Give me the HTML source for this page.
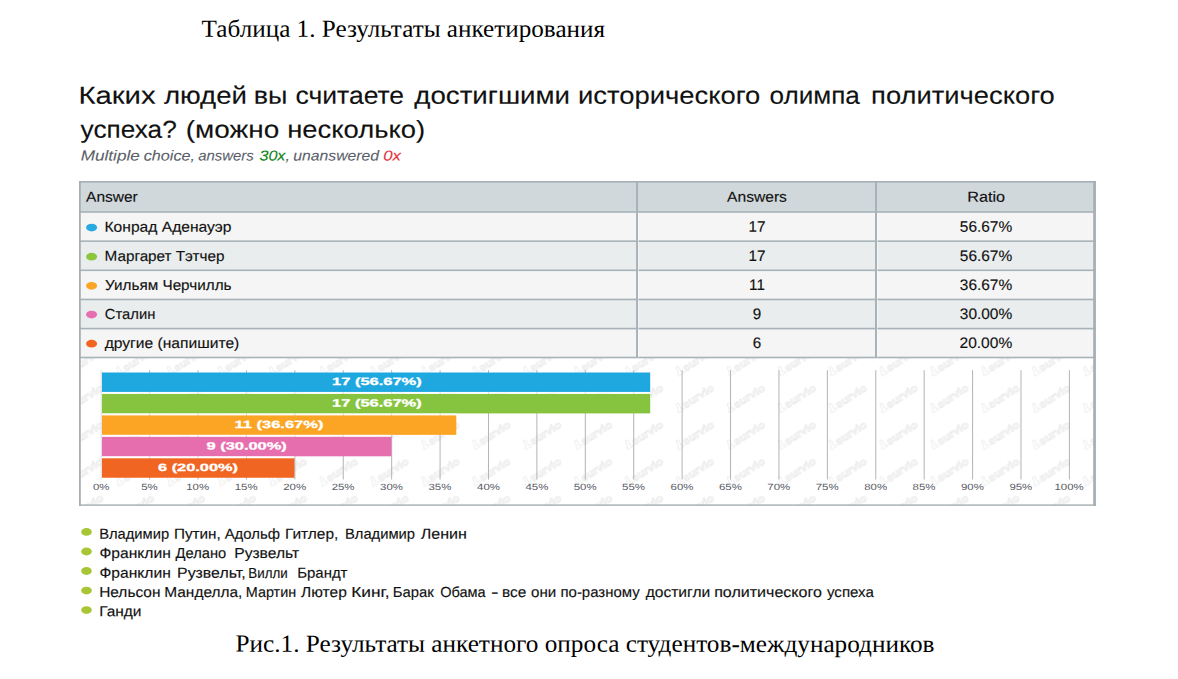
<!DOCTYPE html>
<html lang="ru">
<head>
<meta charset="utf-8">
<title>Результаты анкетирования</title>
<style>
html,body{margin:0;padding:0;background:#fff;}
body{width:1178px;height:679px;position:relative;overflow:hidden;font-family:'Liberation Sans',sans-serif;}
.g{position:absolute;left:0;top:0;}
.t{position:absolute;left:0;top:0;white-space:nowrap;line-height:1.2;transform-origin:0 0;display:block;}
.grp{margin:0;padding:0;font:inherit;list-style:none;display:block;}
</style>
</head>
<body>
<svg class="g" width="1178" height="679" viewBox="0 0 1178 679">
<defs><pattern id="wm" x="669.05" y="380.25" width="50.9" height="36.7" patternUnits="userSpaceOnUse"><g transform="translate(25.45,18.35) rotate(-32.6)" fill="#fff" stroke="#eaeaea" stroke-width="0.8" stroke-linejoin="round"><text x="-13" y="3.6" font-family="Liberation Sans, sans-serif" font-size="10.5" font-weight="bold" textLength="35" lengthAdjust="spacingAndGlyphs">survio</text><path d="M-21 3.6 l6.5 0 l0 -2.2 l-2.2 0 l0.8 -6.2 l-2.4 -0.6 l-1.4 6.8 l-1.3 0 z"/></g></pattern></defs>
<rect x="79" y="181" width="1016.9" height="31" fill="#d0d8db"/>
<rect x="79" y="212" width="1016.9" height="29.15" fill="#f5f5f5"/>
<rect x="79" y="241.15" width="1016.9" height="29.15" fill="#e9edee"/>
<rect x="79" y="270.3" width="1016.9" height="29.15" fill="#f5f5f5"/>
<rect x="79" y="299.45" width="1016.9" height="29.15" fill="#e9edee"/>
<rect x="79" y="328.6" width="1016.9" height="28.9" fill="#f5f5f5"/>
<rect x="79" y="357.5" width="1016.9" height="148.3" fill="#fff"/>
<rect x="79" y="357.5" width="1016.9" height="148.3" fill="url(#wm)"/>
<rect x="79" y="211.2" width="1016.9" height="1.6" fill="#a7b3b9"/>
<rect x="79" y="240.35" width="1016.9" height="1.6" fill="#a7b3b9"/>
<rect x="79" y="269.5" width="1016.9" height="1.6" fill="#a7b3b9"/>
<rect x="79" y="298.65" width="1016.9" height="1.6" fill="#a7b3b9"/>
<rect x="79" y="327.8" width="1016.9" height="1.6" fill="#a7b3b9"/>
<rect x="79" y="356.7" width="1016.9" height="1.6" fill="#a7b3b9"/>
<rect x="636.05" y="181" width="2" height="176.5" fill="#a7b3b9"/>
<rect x="638.05" y="212.8" width="1" height="144.7" fill="#fff" opacity="0.45"/>
<rect x="875" y="181" width="2" height="176.5" fill="#a7b3b9"/>
<rect x="877" y="212.8" width="1" height="144.7" fill="#fff" opacity="0.45"/>
<ellipse cx="91.6" cy="227.6" rx="5.5" ry="3.9" fill="#27a9e1"/>
<ellipse cx="91.6" cy="256.7" rx="5.5" ry="3.9" fill="#8cc63f"/>
<ellipse cx="91.6" cy="285.8" rx="5.5" ry="3.9" fill="#f9a626"/>
<ellipse cx="91.6" cy="314.6" rx="5.5" ry="3.9" fill="#e76eb1"/>
<ellipse cx="91.6" cy="343.7" rx="5.5" ry="3.9" fill="#f26522"/>
<rect x="100.7" y="370.2" width="1" height="109.3" fill="#dcdcdc"/>
<rect x="149.11" y="370.2" width="1" height="109.3" fill="#b4b4b4"/>
<rect x="197.52" y="370.2" width="1" height="109.3" fill="#b4b4b4"/>
<rect x="245.93" y="370.2" width="1" height="109.3" fill="#b4b4b4"/>
<rect x="294.34" y="370.2" width="1" height="109.3" fill="#b4b4b4"/>
<rect x="342.75" y="370.2" width="1" height="109.3" fill="#b4b4b4"/>
<rect x="391.16" y="370.2" width="1" height="109.3" fill="#b4b4b4"/>
<rect x="439.57" y="370.2" width="1" height="109.3" fill="#b4b4b4"/>
<rect x="487.98" y="370.2" width="1" height="109.3" fill="#b4b4b4"/>
<rect x="536.39" y="370.2" width="1" height="109.3" fill="#b4b4b4"/>
<rect x="584.8" y="370.2" width="1" height="109.3" fill="#b4b4b4"/>
<rect x="633.21" y="370.2" width="1" height="109.3" fill="#b4b4b4"/>
<rect x="681.62" y="370.2" width="1" height="109.3" fill="#b4b4b4"/>
<rect x="730.03" y="370.2" width="1" height="109.3" fill="#b4b4b4"/>
<rect x="778.44" y="370.2" width="1" height="109.3" fill="#b4b4b4"/>
<rect x="826.85" y="370.2" width="1" height="109.3" fill="#b4b4b4"/>
<rect x="875.26" y="370.2" width="1" height="109.3" fill="#b4b4b4"/>
<rect x="923.67" y="370.2" width="1" height="109.3" fill="#b4b4b4"/>
<rect x="972.08" y="370.2" width="1" height="109.3" fill="#b4b4b4"/>
<rect x="1020.49" y="370.2" width="1" height="109.3" fill="#b4b4b4"/>
<rect x="1068.9" y="370.2" width="1" height="109.3" fill="#b4b4b4"/>
<rect x="102" y="372.5" width="548.2" height="19.45" fill="#1fa8e0"/>
<rect x="102" y="391.95" width="548.2" height="2" fill="#fff" opacity="0.6"/>
<rect x="102" y="393.95" width="548.2" height="19.45" fill="#86c440"/>
<rect x="102" y="413.4" width="354.3" height="2" fill="#fff" opacity="0.6"/>
<rect x="102" y="415.4" width="354.3" height="19.45" fill="#fca524"/>
<rect x="102" y="434.85" width="289.4" height="2" fill="#fff" opacity="0.6"/>
<rect x="102" y="436.85" width="289.4" height="19.45" fill="#e66eae"/>
<rect x="102" y="456.3" width="192.4" height="2" fill="#fff" opacity="0.6"/>
<rect x="102" y="458.3" width="192.4" height="19.45" fill="#f16522"/>
<rect x="79" y="181" width="1.8" height="324.8" fill="#a6afb4"/>
<rect x="1093.2" y="181" width="2.7" height="324.8" fill="#a6afb4"/>
<rect x="79" y="181" width="1016.9" height="1.6" fill="#a6afb4"/>
<rect x="79" y="504.4" width="1016.9" height="1.4" fill="#a6afb4"/>
<ellipse cx="86.5" cy="531.9" rx="5.3" ry="3.9" fill="#a8c535"/>
<ellipse cx="86.5" cy="551.5" rx="5.3" ry="3.9" fill="#a8c535"/>
<ellipse cx="86.5" cy="571" rx="5.3" ry="3.9" fill="#a8c535"/>
<ellipse cx="86.5" cy="590.6" rx="5.3" ry="3.9" fill="#a8c535"/>
<ellipse cx="86.5" cy="610.1" rx="5.3" ry="3.9" fill="#a8c535"/>
</svg>
<p class="grp title">
<span class="t" style="font-family:'Liberation Serif',serif;font-size:24.5px;color:#000;transform:translate(201.59px,13.69px) rotate(0.03deg) scaleX(1.0268)">Таблица 1. Результаты анкетирования</span>
</p>
<h1 class="grp q">
<span class="t" style="font-family:'Liberation Sans',sans-serif;font-size:24.5px;-webkit-text-stroke:0.12px #111;color:#111;transform:translate(78.41px,80.78px) rotate(0.03deg) scaleX(1.1952)">Каких</span>
<span class="t" style="font-family:'Liberation Sans',sans-serif;font-size:24.5px;-webkit-text-stroke:0.12px #111;color:#111;transform:translate(163.90px,80.78px) rotate(0.03deg) scaleX(1.1266)">людей</span>
<span class="t" style="font-family:'Liberation Sans',sans-serif;font-size:24.5px;-webkit-text-stroke:0.12px #111;color:#111;transform:translate(253.75px,80.79px) rotate(0.03deg) scaleX(1.1018)">вы</span>
<span class="t" style="font-family:'Liberation Sans',sans-serif;font-size:24.5px;-webkit-text-stroke:0.12px #111;color:#111;transform:translate(295.52px,80.77px) rotate(0.03deg) scaleX(1.0819)">считаете</span>
<span class="t" style="font-family:'Liberation Sans',sans-serif;font-size:24.5px;-webkit-text-stroke:0.12px #111;color:#111;transform:translate(414.32px,80.76px) rotate(0.03deg) scaleX(1.1294)">достигшими</span>
<span class="t" style="font-family:'Liberation Sans',sans-serif;font-size:24.5px;-webkit-text-stroke:0.12px #111;color:#111;transform:translate(578.02px,80.75px) rotate(0.03deg) scaleX(1.1178)">исторического</span>
<span class="t" style="font-family:'Liberation Sans',sans-serif;font-size:24.5px;-webkit-text-stroke:0.12px #111;color:#111;transform:translate(769.53px,80.78px) rotate(0.03deg) scaleX(1.0655)">олимпа</span>
<span class="t" style="font-family:'Liberation Sans',sans-serif;font-size:24.5px;-webkit-text-stroke:0.12px #111;color:#111;transform:translate(871.13px,80.75px) rotate(0.03deg) scaleX(1.1160)">политического</span>
<span class="t" style="font-family:'Liberation Sans',sans-serif;font-size:24.5px;-webkit-text-stroke:0.12px #111;color:#111;transform:translate(80.60px,114.68px) rotate(0.03deg) scaleX(1.0708)">успеха?</span>
<span class="t" style="font-family:'Liberation Sans',sans-serif;font-size:24.5px;-webkit-text-stroke:0.12px #111;color:#111;transform:translate(185.79px,114.68px) rotate(0.03deg) scaleX(1.1409)">(можно</span>
<span class="t" style="font-family:'Liberation Sans',sans-serif;font-size:24.5px;-webkit-text-stroke:0.12px #111;color:#111;transform:translate(287.22px,114.66px) rotate(0.03deg) scaleX(1.1185)">несколько)</span>
</h1>
<p class="grp sub">
<span class="t" style="font-family:'Liberation Sans',sans-serif;font-size:14.4px;font-style:italic;-webkit-text-stroke:0.1px;color:#5c5f6b;transform:translate(80.70px,147.38px) rotate(0.03deg) scaleX(1.1918)">Multiple</span>
<span class="t" style="font-family:'Liberation Sans',sans-serif;font-size:14.4px;font-style:italic;-webkit-text-stroke:0.1px;color:#5c5f6b;transform:translate(143.74px,147.39px) rotate(0.03deg) scaleX(1.1264)">choice,</span>
<span class="t" style="font-family:'Liberation Sans',sans-serif;font-size:14.4px;font-style:italic;-webkit-text-stroke:0.1px;color:#5c5f6b;transform:translate(198.24px,147.39px) rotate(0.03deg) scaleX(1.0358)">answers</span>
<span class="t" style="font-family:'Liberation Sans',sans-serif;font-size:14.4px;font-style:italic;-webkit-text-stroke:0.1px;color:#5c5f6b;transform:translate(259.42px,147.39px) rotate(0.03deg) scaleX(1.1208)"><span style="color:#0f8418">30x</span>,</span>
<span class="t" style="font-family:'Liberation Sans',sans-serif;font-size:14.4px;font-style:italic;-webkit-text-stroke:0.1px;color:#5c5f6b;transform:translate(293.25px,147.38px) rotate(0.03deg) scaleX(1.0952)">unanswered</span>
<span class="t" style="font-family:'Liberation Sans',sans-serif;font-size:14.4px;font-style:italic;-webkit-text-stroke:0.1px;color:#5c5f6b;transform:translate(383.22px,147.40px) rotate(0.03deg) scaleX(1.1667)"><span style="color:#e5343f">0x</span></span>
</p>
<div class="grp thead">
<span class="t" style="font-family:'Liberation Sans',sans-serif;font-size:14.6px;-webkit-text-stroke:0.15px #111;color:#111;transform:translate(86.10px,188.69px) rotate(0.03deg) scaleX(1.0619)">Answer</span>
<span class="t" style="font-family:'Liberation Sans',sans-serif;font-size:14.6px;-webkit-text-stroke:0.15px #111;color:#111;transform:translate(727.10px,188.68px) rotate(0.03deg) scaleX(1.0685)">Answers</span>
<span class="t" style="font-family:'Liberation Sans',sans-serif;font-size:14.6px;-webkit-text-stroke:0.15px #111;color:#111;transform:translate(967.19px,188.69px) rotate(0.03deg) scaleX(1.1108)">Ratio</span>
</div>
<div class="grp row0">
<span class="t" style="font-family:'Liberation Sans',sans-serif;font-size:14.6px;-webkit-text-stroke:0.15px #111;color:#111;transform:translate(104.53px,218.77px) rotate(0.03deg) scaleX(1.0701)">Конрад Аденауэр</span>
<span class="t" style="font-family:'Liberation Sans',sans-serif;font-size:15.2px;-webkit-text-stroke:0.15px #111;color:#111;transform:translate(748.48px,217.80px) rotate(0.03deg) scaleX(1.0000)">17</span>
<span class="t" style="font-family:'Liberation Sans',sans-serif;font-size:15.2px;-webkit-text-stroke:0.15px #111;color:#111;transform:translate(959.79px,217.79px) rotate(0.03deg) scaleX(1.0178)">56.67%</span>
</div>
<div class="grp row1">
<span class="t" style="font-family:'Liberation Sans',sans-serif;font-size:14.6px;-webkit-text-stroke:0.15px #111;color:#111;transform:translate(104.55px,247.87px) rotate(0.03deg) scaleX(1.0455)">Маргарет Тэтчер</span>
<span class="t" style="font-family:'Liberation Sans',sans-serif;font-size:15.2px;-webkit-text-stroke:0.15px #111;color:#111;transform:translate(748.48px,246.90px) rotate(0.03deg) scaleX(1.0000)">17</span>
<span class="t" style="font-family:'Liberation Sans',sans-serif;font-size:15.2px;-webkit-text-stroke:0.15px #111;color:#111;transform:translate(959.79px,246.89px) rotate(0.03deg) scaleX(1.0178)">56.67%</span>
</div>
<div class="grp row2">
<span class="t" style="font-family:'Liberation Sans',sans-serif;font-size:14.6px;-webkit-text-stroke:0.15px #111;color:#111;transform:translate(105.08px,276.97px) rotate(0.03deg) scaleX(1.0458)">Уильям Черчилль</span>
<span class="t" style="font-family:'Liberation Sans',sans-serif;font-size:15.2px;-webkit-text-stroke:0.15px #111;color:#111;transform:translate(749.10px,276.00px) rotate(0.03deg) scaleX(1.0000)">11</span>
<span class="t" style="font-family:'Liberation Sans',sans-serif;font-size:15.2px;-webkit-text-stroke:0.15px #111;color:#111;transform:translate(959.79px,275.99px) rotate(0.03deg) scaleX(1.0178)">36.67%</span>
</div>
<div class="grp row3">
<span class="t" style="font-family:'Liberation Sans',sans-serif;font-size:14.6px;-webkit-text-stroke:0.15px #111;color:#111;transform:translate(104.84px,305.89px) rotate(0.03deg) scaleX(1.0114)">Сталин</span>
<span class="t" style="font-family:'Liberation Sans',sans-serif;font-size:15.2px;-webkit-text-stroke:0.15px #111;color:#111;transform:translate(752.85px,304.90px) rotate(0.03deg) scaleX(1.0000)">9</span>
<span class="t" style="font-family:'Liberation Sans',sans-serif;font-size:15.2px;-webkit-text-stroke:0.15px #111;color:#111;transform:translate(959.79px,304.89px) rotate(0.03deg) scaleX(1.0178)">30.00%</span>
</div>
<div class="grp row4">
<span class="t" style="font-family:'Liberation Sans',sans-serif;font-size:14.6px;-webkit-text-stroke:0.15px #111;color:#111;transform:translate(104.70px,334.96px) rotate(0.03deg) scaleX(1.0696)">другие (напишите)</span>
<span class="t" style="font-family:'Liberation Sans',sans-serif;font-size:15.2px;-webkit-text-stroke:0.15px #111;color:#111;transform:translate(752.85px,334.00px) rotate(0.03deg) scaleX(1.0000)">6</span>
<span class="t" style="font-family:'Liberation Sans',sans-serif;font-size:15.2px;-webkit-text-stroke:0.15px #111;color:#111;transform:translate(959.53px,333.99px) rotate(0.03deg) scaleX(1.0229)">20.00%</span>
</div>
<div class="grp barlabels">
<span class="t" style="font-family:'Liberation Sans',sans-serif;font-size:10.5px;font-weight:bold;-webkit-text-stroke:0.3px #fff;color:#fff;transform:translate(332.02px,375.08px) rotate(0.03deg) scaleX(1.5677)">17 (56.67%)</span>
<span class="t" style="font-family:'Liberation Sans',sans-serif;font-size:10.5px;font-weight:bold;-webkit-text-stroke:0.3px #fff;color:#fff;transform:translate(332.02px,396.53px) rotate(0.03deg) scaleX(1.5677)">17 (56.67%)</span>
<span class="t" style="font-family:'Liberation Sans',sans-serif;font-size:10.5px;font-weight:bold;-webkit-text-stroke:0.3px #fff;color:#fff;transform:translate(234.62px,417.98px) rotate(0.03deg) scaleX(1.5674)">11 (36.67%)</span>
<span class="t" style="font-family:'Liberation Sans',sans-serif;font-size:10.5px;font-weight:bold;-webkit-text-stroke:0.3px #fff;color:#fff;transform:translate(206.52px,439.43px) rotate(0.03deg) scaleX(1.5622)">9 (30.00%)</span>
<span class="t" style="font-family:'Liberation Sans',sans-serif;font-size:10.5px;font-weight:bold;-webkit-text-stroke:0.3px #fff;color:#fff;transform:translate(158.02px,460.88px) rotate(0.03deg) scaleX(1.5562)">6 (20.00%)</span>
</div>
<div class="grp axis">
<span class="t" style="font-family:'Liberation Sans',sans-serif;font-size:9px;color:#585b66;transform:translate(92.95px,481.90px) rotate(0.03deg) scaleX(1.2700)">0%</span>
<span class="t" style="font-family:'Liberation Sans',sans-serif;font-size:9px;color:#585b66;transform:translate(141.20px,481.90px) rotate(0.03deg) scaleX(1.2700)">5%</span>
<span class="t" style="font-family:'Liberation Sans',sans-serif;font-size:9px;color:#585b66;transform:translate(186.27px,481.89px) rotate(0.03deg) scaleX(1.2700)">10%</span>
<span class="t" style="font-family:'Liberation Sans',sans-serif;font-size:9px;color:#585b66;transform:translate(234.68px,481.89px) rotate(0.03deg) scaleX(1.2700)">15%</span>
<span class="t" style="font-family:'Liberation Sans',sans-serif;font-size:9px;color:#585b66;transform:translate(283.25px,481.89px) rotate(0.03deg) scaleX(1.2700)">20%</span>
<span class="t" style="font-family:'Liberation Sans',sans-serif;font-size:9px;color:#585b66;transform:translate(331.66px,481.89px) rotate(0.03deg) scaleX(1.2700)">25%</span>
<span class="t" style="font-family:'Liberation Sans',sans-serif;font-size:9px;color:#585b66;transform:translate(380.07px,481.89px) rotate(0.03deg) scaleX(1.2700)">30%</span>
<span class="t" style="font-family:'Liberation Sans',sans-serif;font-size:9px;color:#585b66;transform:translate(428.48px,481.89px) rotate(0.03deg) scaleX(1.2700)">35%</span>
<span class="t" style="font-family:'Liberation Sans',sans-serif;font-size:9px;color:#585b66;transform:translate(477.05px,481.89px) rotate(0.03deg) scaleX(1.2700)">40%</span>
<span class="t" style="font-family:'Liberation Sans',sans-serif;font-size:9px;color:#585b66;transform:translate(525.46px,481.89px) rotate(0.03deg) scaleX(1.2700)">45%</span>
<span class="t" style="font-family:'Liberation Sans',sans-serif;font-size:9px;color:#585b66;transform:translate(573.71px,481.89px) rotate(0.03deg) scaleX(1.2700)">50%</span>
<span class="t" style="font-family:'Liberation Sans',sans-serif;font-size:9px;color:#585b66;transform:translate(622.12px,481.89px) rotate(0.03deg) scaleX(1.2700)">55%</span>
<span class="t" style="font-family:'Liberation Sans',sans-serif;font-size:9px;color:#585b66;transform:translate(670.53px,481.89px) rotate(0.03deg) scaleX(1.2700)">60%</span>
<span class="t" style="font-family:'Liberation Sans',sans-serif;font-size:9px;color:#585b66;transform:translate(718.94px,481.89px) rotate(0.03deg) scaleX(1.2700)">65%</span>
<span class="t" style="font-family:'Liberation Sans',sans-serif;font-size:9px;color:#585b66;transform:translate(767.35px,481.89px) rotate(0.03deg) scaleX(1.2700)">70%</span>
<span class="t" style="font-family:'Liberation Sans',sans-serif;font-size:9px;color:#585b66;transform:translate(815.76px,481.89px) rotate(0.03deg) scaleX(1.2700)">75%</span>
<span class="t" style="font-family:'Liberation Sans',sans-serif;font-size:9px;color:#585b66;transform:translate(864.17px,481.89px) rotate(0.03deg) scaleX(1.2700)">80%</span>
<span class="t" style="font-family:'Liberation Sans',sans-serif;font-size:9px;color:#585b66;transform:translate(912.58px,481.89px) rotate(0.03deg) scaleX(1.2700)">85%</span>
<span class="t" style="font-family:'Liberation Sans',sans-serif;font-size:9px;color:#585b66;transform:translate(960.99px,481.89px) rotate(0.03deg) scaleX(1.2700)">90%</span>
<span class="t" style="font-family:'Liberation Sans',sans-serif;font-size:9px;color:#585b66;transform:translate(1009.40px,481.89px) rotate(0.03deg) scaleX(1.2700)">95%</span>
<span class="t" style="font-family:'Liberation Sans',sans-serif;font-size:9px;color:#585b66;transform:translate(1054.48px,481.89px) rotate(0.03deg) scaleX(1.2700)">100%</span>
</div>
<ul class="grp">
<li class="grp l0">
<span class="t" style="font-family:'Liberation Sans',sans-serif;font-size:14.6px;-webkit-text-stroke:0.15px #111;color:#111;transform:translate(99.19px,525.68px) rotate(0.03deg) scaleX(1.0081)">Владимир</span>
<span class="t" style="font-family:'Liberation Sans',sans-serif;font-size:14.6px;-webkit-text-stroke:0.15px #111;color:#111;transform:translate(173.96px,525.69px) rotate(0.03deg) scaleX(1.0447)">Путин,</span>
<span class="t" style="font-family:'Liberation Sans',sans-serif;font-size:14.6px;-webkit-text-stroke:0.15px #111;color:#111;transform:translate(224.70px,525.69px) rotate(0.03deg) scaleX(1.0195)">Адольф</span>
<span class="t" style="font-family:'Liberation Sans',sans-serif;font-size:14.6px;-webkit-text-stroke:0.15px #111;color:#111;transform:translate(284.94px,525.69px) rotate(0.03deg) scaleX(1.0591)">Гитлер,</span>
<span class="t" style="font-family:'Liberation Sans',sans-serif;font-size:14.6px;-webkit-text-stroke:0.15px #111;color:#111;transform:translate(344.99px,525.68px) rotate(0.03deg) scaleX(1.0096)">Владимир</span>
<span class="t" style="font-family:'Liberation Sans',sans-serif;font-size:14.6px;-webkit-text-stroke:0.15px #111;color:#111;transform:translate(420.80px,525.69px) rotate(0.03deg) scaleX(1.1000)">Ленин</span>
</li>
<li class="grp l1">
<span class="t" style="font-family:'Liberation Sans',sans-serif;font-size:14.6px;-webkit-text-stroke:0.15px #111;color:#111;transform:translate(99.40px,544.98px) rotate(0.03deg) scaleX(1.0708)">Франклин</span>
<span class="t" style="font-family:'Liberation Sans',sans-serif;font-size:14.6px;-webkit-text-stroke:0.15px #111;color:#111;transform:translate(175.60px,544.99px) rotate(0.03deg) scaleX(1.0050)">Делано</span>
<span class="t" style="font-family:'Liberation Sans',sans-serif;font-size:14.6px;-webkit-text-stroke:0.15px #111;color:#111;transform:translate(234.23px,544.98px) rotate(0.03deg) scaleX(1.0706)">Рузвельт</span>
</li>
<li class="grp l2">
<span class="t" style="font-family:'Liberation Sans',sans-serif;font-size:14.6px;-webkit-text-stroke:0.15px #111;color:#111;transform:translate(99.40px,564.68px) rotate(0.03deg) scaleX(1.0708)">Франклин</span>
<span class="t" style="font-family:'Liberation Sans',sans-serif;font-size:14.6px;-webkit-text-stroke:0.15px #111;color:#111;transform:translate(177.11px,564.68px) rotate(0.03deg) scaleX(1.0864)">Рузвельт,</span>
<span class="t" style="font-family:'Liberation Sans',sans-serif;font-size:14.6px;-webkit-text-stroke:0.15px #111;color:#111;transform:translate(248.29px,564.69px) rotate(0.03deg) scaleX(0.9139)">Вилли</span>
<span class="t" style="font-family:'Liberation Sans',sans-serif;font-size:14.6px;-webkit-text-stroke:0.15px #111;color:#111;transform:translate(297.18px,564.69px) rotate(0.03deg) scaleX(1.0250)">Брандт</span>
</li>
<li class="grp l3">
<span class="t" style="font-family:'Liberation Sans',sans-serif;font-size:14.6px;-webkit-text-stroke:0.15px #111;color:#111;transform:translate(99.14px,583.98px) rotate(0.03deg) scaleX(1.0589)">Нельсон</span>
<span class="t" style="font-family:'Liberation Sans',sans-serif;font-size:14.6px;-webkit-text-stroke:0.15px #111;color:#111;transform:translate(164.24px,583.98px) rotate(0.03deg) scaleX(1.0578)">Манделла,</span>
<span class="t" style="font-family:'Liberation Sans',sans-serif;font-size:14.6px;-webkit-text-stroke:0.15px #111;color:#111;transform:translate(245.82px,583.99px) rotate(0.03deg) scaleX(0.9848)">Мартин</span>
<span class="t" style="font-family:'Liberation Sans',sans-serif;font-size:14.6px;-webkit-text-stroke:0.15px #111;color:#111;transform:translate(301.10px,583.99px) rotate(0.03deg) scaleX(1.0635)">Лютер</span>
<span class="t" style="font-family:'Liberation Sans',sans-serif;font-size:14.6px;-webkit-text-stroke:0.15px #111;color:#111;transform:translate(351.22px,583.99px) rotate(0.03deg) scaleX(1.1833)">Кинг,</span>
<span class="t" style="font-family:'Liberation Sans',sans-serif;font-size:14.6px;-webkit-text-stroke:0.15px #111;color:#111;transform:translate(392.78px,583.99px) rotate(0.03deg) scaleX(1.0152)">Барак</span>
<span class="t" style="font-family:'Liberation Sans',sans-serif;font-size:14.6px;-webkit-text-stroke:0.15px #111;color:#111;transform:translate(440.20px,583.99px) rotate(0.03deg) scaleX(0.9967)">Обама</span>
<span class="t" style="font-family:'Liberation Sans',sans-serif;font-size:14.6px;-webkit-text-stroke:0.15px #111;color:#111;transform:translate(491.13px,584.00px) rotate(0.03deg) scaleX(1.5467)">-</span>
<span class="t" style="font-family:'Liberation Sans',sans-serif;font-size:14.6px;-webkit-text-stroke:0.15px #111;color:#111;transform:translate(502.04px,583.99px) rotate(0.03deg) scaleX(1.0558)">все</span>
<span class="t" style="font-family:'Liberation Sans',sans-serif;font-size:14.6px;-webkit-text-stroke:0.15px #111;color:#111;transform:translate(531.08px,583.99px) rotate(0.03deg) scaleX(1.0348)">они</span>
<span class="t" style="font-family:'Liberation Sans',sans-serif;font-size:14.6px;-webkit-text-stroke:0.15px #111;color:#111;transform:translate(560.48px,583.98px) rotate(0.03deg) scaleX(1.0243)">по-разному</span>
<span class="t" style="font-family:'Liberation Sans',sans-serif;font-size:14.6px;-webkit-text-stroke:0.15px #111;color:#111;transform:translate(645.70px,583.98px) rotate(0.03deg) scaleX(1.0672)">достигли</span>
<span class="t" style="font-family:'Liberation Sans',sans-serif;font-size:14.6px;-webkit-text-stroke:0.15px #111;color:#111;transform:translate(714.20px,583.97px) rotate(0.03deg) scaleX(1.0984)">политического</span>
<span class="t" style="font-family:'Liberation Sans',sans-serif;font-size:14.6px;-webkit-text-stroke:0.15px #111;color:#111;transform:translate(827.00px,583.99px) rotate(0.03deg) scaleX(1.0330)">успеха</span>
</li>
<li class="grp l4">
<span class="t" style="font-family:'Liberation Sans',sans-serif;font-size:14.6px;-webkit-text-stroke:0.15px #111;color:#111;transform:translate(99.14px,603.29px) rotate(0.03deg) scaleX(1.0605)">Ганди</span>
</li>
</ul>
<p class="grp cap">
<span class="t" style="font-family:'Liberation Serif',serif;font-size:24.5px;color:#000;transform:translate(235.53px,628.62px) rotate(0.03deg) scaleX(1.0302)">Рис.1. Результаты анкетного опроса студентов-международников</span>
</p>
</body>
</html>
